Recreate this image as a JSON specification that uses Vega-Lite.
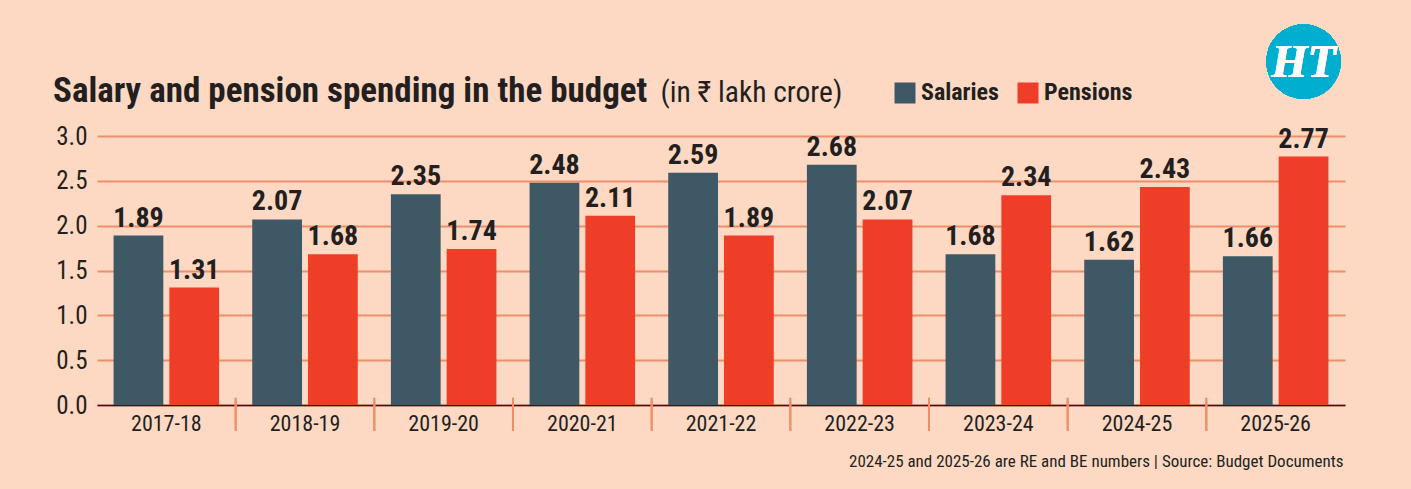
{
  "$schema": "https://vega.github.io/schema/vega-lite/v6.json",
  "width": 1248,
  "height": 269,
  "autosize": {"type": "none"},
  "padding": {"left": 97, "top": 136, "right": 66, "bottom": 84},
  "background": "#FDD9C3",
  "config": {
    "view": {"stroke": null},
    "font": "Roboto Condensed, DejaVu Sans Condensed, Roboto",
    "text": {"color": "#231F20"}
  },
  "title": {
    "text": "Salary and pension spending in the budget",
    "anchor": "start",
    "frame": "group",
    "fontSize": 35,
    "fontWeight": "bold",
    "color": "#231F20",
    "baseline": "alphabetic",
    "dx": -44,
    "offset": 0,
    "dy": 113
  },
  "data": {
    "values": [
      {"year": "2017-18", "series": "Salaries", "value": 1.89},
      {"year": "2017-18", "series": "Pensions", "value": 1.31},
      {"year": "2018-19", "series": "Salaries", "value": 2.07},
      {"year": "2018-19", "series": "Pensions", "value": 1.68},
      {"year": "2019-20", "series": "Salaries", "value": 2.35},
      {"year": "2019-20", "series": "Pensions", "value": 1.74},
      {"year": "2020-21", "series": "Salaries", "value": 2.48},
      {"year": "2020-21", "series": "Pensions", "value": 2.11},
      {"year": "2021-22", "series": "Salaries", "value": 2.59},
      {"year": "2021-22", "series": "Pensions", "value": 1.89},
      {"year": "2022-23", "series": "Salaries", "value": 2.68},
      {"year": "2022-23", "series": "Pensions", "value": 2.07},
      {"year": "2023-24", "series": "Salaries", "value": 1.68},
      {"year": "2023-24", "series": "Pensions", "value": 2.34},
      {"year": "2024-25", "series": "Salaries", "value": 1.62},
      {"year": "2024-25", "series": "Pensions", "value": 2.43},
      {"year": "2025-26", "series": "Salaries", "value": 1.66},
      {"year": "2025-26", "series": "Pensions", "value": 2.77}
    ]
  },
  "encoding": {
    "x": {
      "field": "year",
      "type": "nominal",
      "sort": null,
      "scale": {
        "domain": ["2017-18", "2018-19", "2019-20", "2020-21", "2021-22", "2022-23", "2023-24", "2024-25", "2025-26"],
        "paddingInner": 0,
        "paddingOuter": 0
      },
      "axis": {
        "labelAngle": 0,
        "labelFontSize": 22,
        "labelColor": "#231F20",
        "labelBaseline": "alphabetic",
        "labelPadding": 25,
        "domainColor": "#231F20",
        "domainWidth": 1.5,
        "ticks": false,
        "title": "2024-25 and 2025-26 are RE and BE numbers | Source: Budget Documents",
        "titleFontSize": 17,
        "titleFontWeight": "normal",
        "titleColor": "#231F20",
        "titleAlign": "right",
        "titleBaseline": "alphabetic",
        "titleX": 1246,
        "titleY": 61
      }
    },
    "xOffset": {
      "field": "series",
      "sort": ["Salaries", "Pensions"],
      "scale": {"paddingInner": 0.108, "paddingOuter": 0.297}
    },
    "y": {
      "field": "value",
      "type": "quantitative",
      "scale": {"domain": [0, 3], "nice": false},
      "axis": {
        "values": [0, 0.5, 1, 1.5, 2, 2.5, 3],
        "format": ".1f",
        "labelFontSize": 25,
        "labelColor": "#231F20",
        "labelPadding": 10,
        "domain": false,
        "ticks": false,
        "grid": true,
        "gridColor": "#EF8F6A",
        "gridWidth": 2,
        "title": "(in ₹ lakh crore)",
        "titleAngle": 0,
        "titleAlign": "left",
        "titleBaseline": "alphabetic",
        "titleFontSize": 29.5,
        "titleFontWeight": "normal",
        "titleColor": "#231F20",
        "titleX": 563,
        "titleY": -35
      }
    }
  },
  "layer": [
    {
      "transform": [{"filter": "datum.year !== '2017-18'"}],
      "mark": {"type": "rule", "color": "#EF8F6A", "strokeWidth": 2},
      "encoding": {
        "x": {"field": "year", "type": "nominal", "bandPosition": 0},
        "xOffset": null,
        "y": {"datum": 0.08},
        "y2": {"datum": -0.29}
      }
    },
    {
      "mark": {"type": "bar"},
      "encoding": {
        "color": {
          "field": "series",
          "type": "nominal",
          "scale": {"domain": ["Salaries", "Pensions"], "range": ["#3E5866", "#EE3E27"]},
          "legend": {
            "orient": "none",
            "legendX": 796,
            "legendY": -55,
            "direction": "horizontal",
            "title": null,
            "symbolType": "square",
            "symbolSize": 441,
            "symbolStrokeWidth": 0,
            "symbolOpacity": 1,
            "labelFontSize": 24,
            "labelFontWeight": "bold",
            "labelColor": "#231F20",
            "labelOffset": 4,
            "columnPadding": 17
          }
        }
      }
    },
    {
      "mark": {"type": "text", "baseline": "alphabetic", "dy": -9, "fontSize": 28, "fontWeight": "bold", "color": "#231F20"},
      "encoding": {
        "text": {"field": "value", "type": "quantitative", "format": ".2f"}
      }
    },
    {
      "mark": {"type": "point", "shape": "circle", "filled": true, "size": 5540, "color": "#00AECF", "opacity": 1, "xOffset": 11},
      "encoding": {
        "x": {"datum": "2025-26"},
        "xOffset": {"datum": "Pensions"},
        "y": {"datum": 3.83}
      }
    },
    {
      "mark": {"type": "text", "text": "HT", "font": "Liberation Serif", "fontSize": 46, "fontWeight": "bold", "fontStyle": "italic", "color": "#FFFFFF", "baseline": "middle", "align": "center", "xOffset": 11, "dy": 1},
      "encoding": {
        "x": {"datum": "2025-26"},
        "xOffset": {"datum": "Pensions"},
        "y": {"datum": 3.83}
      }
    }
  ]
}
